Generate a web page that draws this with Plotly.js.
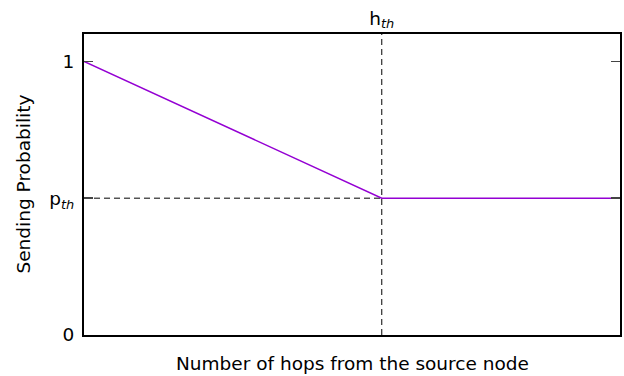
<!DOCTYPE html>
<html>
<head>
<meta charset="utf-8">
<script src="https://cdn.plot.ly/plotly-3.0.1.min.js"></script>
<style>html,body{margin:0;padding:0;background:#fff}</style>
</head>
<body>
<div id="chart" style="width:624px;height:376px"></div>
<script>
// Data (normalised model: hop axis 0..9, threshold at 5)
const xMax = 9;
const yMax = 1.1;
const hth = 5;          // hop threshold
const pth = 0.5;        // probability threshold
const curveX = [0, hth, xMax];
const curveY = [1, pth, pth];
const yTickVals = [0, pth, 1];
const yTickText = ['0', 'p<sub><i>th</i></sub>', '1'];
const xTickVals = [hth];
const xTickText = ['h<sub><i>th</i></sub>'];
const xTitle = 'Number of hops from the source node';
const yTitle = 'Sending Probability';

const FONT = 'DejaVu Sans, Verdana, sans-serif';
const FS = 18.5;
const traces = [
  {x: [hth, hth], y: [0, yMax], mode: 'lines', line: {color: '#000', width: 1, dash: '6px,4px'}, hoverinfo: 'skip'},
  {x: [0, hth], y: [pth, pth], mode: 'lines', line: {color: '#000', width: 1, dash: '6px,4px'}, hoverinfo: 'skip'},
  {x: curveX, y: curveY, mode: 'lines', line: {color: '#9400D3', width: 1.5}}
];
const layout = {
  width: 624, height: 376,
  margin: {l: 84, r: 4, t: 34, b: 41},
  showlegend: false,
  paper_bgcolor: '#fff', plot_bgcolor: '#fff',
  font: {family: FONT, size: FS, color: '#000'},
  xaxis: {
    range: [0, xMax], side: 'top', showgrid: false, zeroline: false,
    showline: true, mirror: true, linecolor: '#000', linewidth: 2,
    tickvals: xTickVals, ticktext: xTickText, ticks: '', ticklabelstandoff: 0,
    tickfont: {family: FONT, size: FS, color: '#000'}, automargin: false
  },
  yaxis: {
    range: [0, yMax], showgrid: false, zeroline: false,
    showline: true, mirror: 'ticks', linecolor: '#000', linewidth: 2,
    tickvals: yTickVals, ticktext: yTickText, ticks: 'inside', ticklen: 9,
    tickcolor: '#444', tickwidth: 1.5, ticklabelstandoff: 4,
    tickfont: {family: FONT, size: FS, color: '#000'}, automargin: false
  },
  annotations: [
    {text: xTitle, xref: 'paper', yref: 'paper', x: 0.5, y: 0, yshift: -28,
     xanchor: 'center', yanchor: 'middle', showarrow: false,
     font: {family: FONT, size: FS, color: '#000'}},
    {text: yTitle, xref: 'paper', yref: 'paper', x: 0, y: 0.5, xshift: -61,
     xanchor: 'center', yanchor: 'middle', textangle: -90, showarrow: false,
     font: {family: FONT, size: FS, color: '#000'}}
  ]
};
Plotly.newPlot('chart', traces, layout, {staticPlot: true, displayModeBar: false});
</script>
</body>
</html>
